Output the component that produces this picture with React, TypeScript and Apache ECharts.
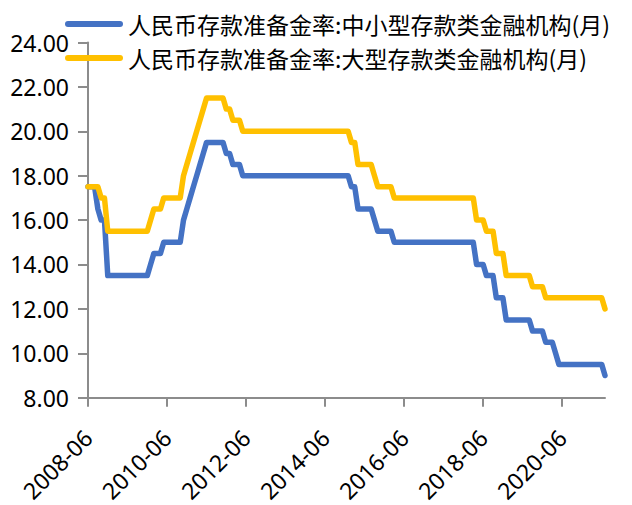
import React, { useEffect, useRef } from "react";
import * as echarts from "echarts";

// Monthly categories 2008-06 .. 2021-07
const START_YEAR = 2008;
const START_MONTH = 6;
const MONTH_COUNT = 158;
const months: string[] = [];
for (let i = 0; i < MONTH_COUNT; i++) {
  const m = START_MONTH - 1 + i;
  const y = START_YEAR + Math.floor(m / 12);
  const mm = (m % 12) + 1;
  months.push(`${y}-${mm < 10 ? "0" + mm : mm}`);
}

const seriesNames = [
  "人民币存款准备金率:中小型存款类金融机构(月)",
  "人民币存款准备金率:大型存款类金融机构(月)",
];

// 中小型存款类金融机构 (monthly, 2008-06 .. 2021-07)
const smallMedium: number[] = [
  // 2008 Jun-Dec
  17.5, 17.5, 17.5, 16.5, 16.0, 16.0, 13.5,
  // 2009
  13.5, 13.5, 13.5, 13.5, 13.5, 13.5, 13.5, 13.5, 13.5, 13.5, 13.5, 13.5,
  // 2010
  14.0, 14.5, 14.5, 14.5, 15.0, 15.0, 15.0, 15.0, 15.0, 15.0, 16.0, 16.5,
  // 2011
  17.0, 17.5, 18.0, 18.5, 19.0, 19.5, 19.5, 19.5, 19.5, 19.5, 19.5, 19.0,
  // 2012
  19.0, 18.5, 18.5, 18.5, 18.0, 18.0, 18.0, 18.0, 18.0, 18.0, 18.0, 18.0,
  // 2013
  18.0, 18.0, 18.0, 18.0, 18.0, 18.0, 18.0, 18.0, 18.0, 18.0, 18.0, 18.0,
  // 2014
  18.0, 18.0, 18.0, 18.0, 18.0, 18.0, 18.0, 18.0, 18.0, 18.0, 18.0, 18.0,
  // 2015
  18.0, 17.5, 17.5, 16.5, 16.5, 16.5, 16.5, 16.5, 16.0, 15.5, 15.5, 15.5,
  // 2016
  15.5, 15.5, 15.0, 15.0, 15.0, 15.0, 15.0, 15.0, 15.0, 15.0, 15.0, 15.0,
  // 2017
  15.0, 15.0, 15.0, 15.0, 15.0, 15.0, 15.0, 15.0, 15.0, 15.0, 15.0, 15.0,
  // 2018
  15.0, 15.0, 15.0, 14.0, 14.0, 14.0, 13.5, 13.5, 13.5, 12.5, 12.5, 12.5,
  // 2019
  11.5, 11.5, 11.5, 11.5, 11.5, 11.5, 11.5, 11.5, 11.0, 11.0, 11.0, 11.0,
  // 2020
  10.5, 10.5, 10.5, 10.0, 9.5, 9.5, 9.5, 9.5, 9.5, 9.5, 9.5, 9.5,
  // 2021 Jan-Jul
  9.5, 9.5, 9.5, 9.5, 9.5, 9.5, 9.0,
];

// 大型存款类金融机构 (monthly, 2008-06 .. 2021-07)
const large: number[] = [
  // 2008 Jun-Dec
  17.5, 17.5, 17.5, 17.5, 17.0, 17.0, 15.5,
  // 2009
  15.5, 15.5, 15.5, 15.5, 15.5, 15.5, 15.5, 15.5, 15.5, 15.5, 15.5, 15.5,
  // 2010
  16.0, 16.5, 16.5, 16.5, 17.0, 17.0, 17.0, 17.0, 17.0, 17.0, 18.0, 18.5,
  // 2011
  19.0, 19.5, 20.0, 20.5, 21.0, 21.5, 21.5, 21.5, 21.5, 21.5, 21.5, 21.0,
  // 2012
  21.0, 20.5, 20.5, 20.5, 20.0, 20.0, 20.0, 20.0, 20.0, 20.0, 20.0, 20.0,
  // 2013
  20.0, 20.0, 20.0, 20.0, 20.0, 20.0, 20.0, 20.0, 20.0, 20.0, 20.0, 20.0,
  // 2014
  20.0, 20.0, 20.0, 20.0, 20.0, 20.0, 20.0, 20.0, 20.0, 20.0, 20.0, 20.0,
  // 2015
  20.0, 19.5, 19.5, 18.5, 18.5, 18.5, 18.5, 18.5, 18.0, 17.5, 17.5, 17.5,
  // 2016
  17.5, 17.5, 17.0, 17.0, 17.0, 17.0, 17.0, 17.0, 17.0, 17.0, 17.0, 17.0,
  // 2017
  17.0, 17.0, 17.0, 17.0, 17.0, 17.0, 17.0, 17.0, 17.0, 17.0, 17.0, 17.0,
  // 2018
  17.0, 17.0, 17.0, 16.0, 16.0, 16.0, 15.5, 15.5, 15.5, 14.5, 14.5, 14.5,
  // 2019
  13.5, 13.5, 13.5, 13.5, 13.5, 13.5, 13.5, 13.5, 13.0, 13.0, 13.0, 13.0,
  // 2020
  12.5, 12.5, 12.5, 12.5, 12.5, 12.5, 12.5, 12.5, 12.5, 12.5, 12.5, 12.5,
  // 2021 Jan-Jul
  12.5, 12.5, 12.5, 12.5, 12.5, 12.5, 12.0,
];

const Y_MIN = 8;
const Y_MAX = 24;
const Y_STEP = 2;
const LABEL_EVERY = 24; // one x label every 24 months

const colors = ["#4472C4", "#FFC000"];
const axisColor = "#8c8c8c";
const numFont = "'Noto Sans', 'Open Sans', sans-serif";
const cjkFont = "'Noto Sans CJK SC', sans-serif";

const legendIcon =
  "path://M3,0 L55,0 A3,3 0 0 1 55,6 L3,6 A3,3 0 0 1 3,0 Z";

export default function App() {
  const ref = useRef<HTMLDivElement>(null);

  useEffect(() => {
    if (!ref.current) return;
    const chart = echarts.init(ref.current, undefined, { renderer: "svg" });
    const option: any = {
      animation: false,
      backgroundColor: "#ffffff",
      legend: {
        orient: "vertical",
        left: 65,
        top: 12,
        padding: 0,
        icon: legendIcon,
        itemWidth: 58,
        itemHeight: 6,
        itemGap: 10,
        itemStyle: { borderWidth: 0 },
        textStyle: {
          fontFamily: cjkFont,
          fontSize: 23,
          lineHeight: 24,
          color: "#000",
        },
        data: seriesNames,
      },
      grid: { left: 88, right: 27, top: 42.5, bottom: 101 },
      xAxis: {
        type: "category",
        data: months,
        boundaryGap: false,
        axisLine: { lineStyle: { color: axisColor, width: 2 } },
        axisTick: {
          interval: LABEL_EVERY - 1,
          length: 9,
          lineStyle: { color: axisColor, width: 2 },
        },
        axisLabel: {
          interval: LABEL_EVERY - 1,
          rotate: 45,
          margin: 36,
          fontFamily: numFont,
          fontSize: 23,
          color: "#000",
        },
        splitLine: { show: false },
      },
      yAxis: {
        type: "value",
        min: Y_MIN,
        max: Y_MAX,
        interval: Y_STEP,
        axisLine: { show: true, lineStyle: { color: axisColor, width: 2 } },
        axisTick: {
          show: true,
          inside: false,
          length: 10,
          lineStyle: { color: axisColor, width: 2 },
        },
        axisLabel: {
          margin: 19,
          fontFamily: numFont,
          fontSize: 23,
          color: "#000",
          formatter: (v: number) => v.toFixed(2),
        },
        splitLine: { show: false },
      },
      series: [
        {
          name: seriesNames[0],
          type: "line",
          data: smallMedium,
          symbol: "none",
          showSymbol: false,
          color: colors[0],
          lineStyle: { color: colors[0], width: 5.5, join: "round", cap: "round" },
          itemStyle: { color: colors[0] },
        },
        {
          name: seriesNames[1],
          type: "line",
          data: large,
          symbol: "none",
          showSymbol: false,
          color: colors[1],
          lineStyle: { color: colors[1], width: 5.5, join: "round", cap: "round" },
          itemStyle: { color: colors[1] },
        },
      ],
    };
    chart.setOption(option);
    return () => chart.dispose();
  }, []);

  return (
    <div
      ref={ref}
      style={{ position: "absolute", left: 0, top: 0, width: 632, height: 505 }}
    />
  );
}
